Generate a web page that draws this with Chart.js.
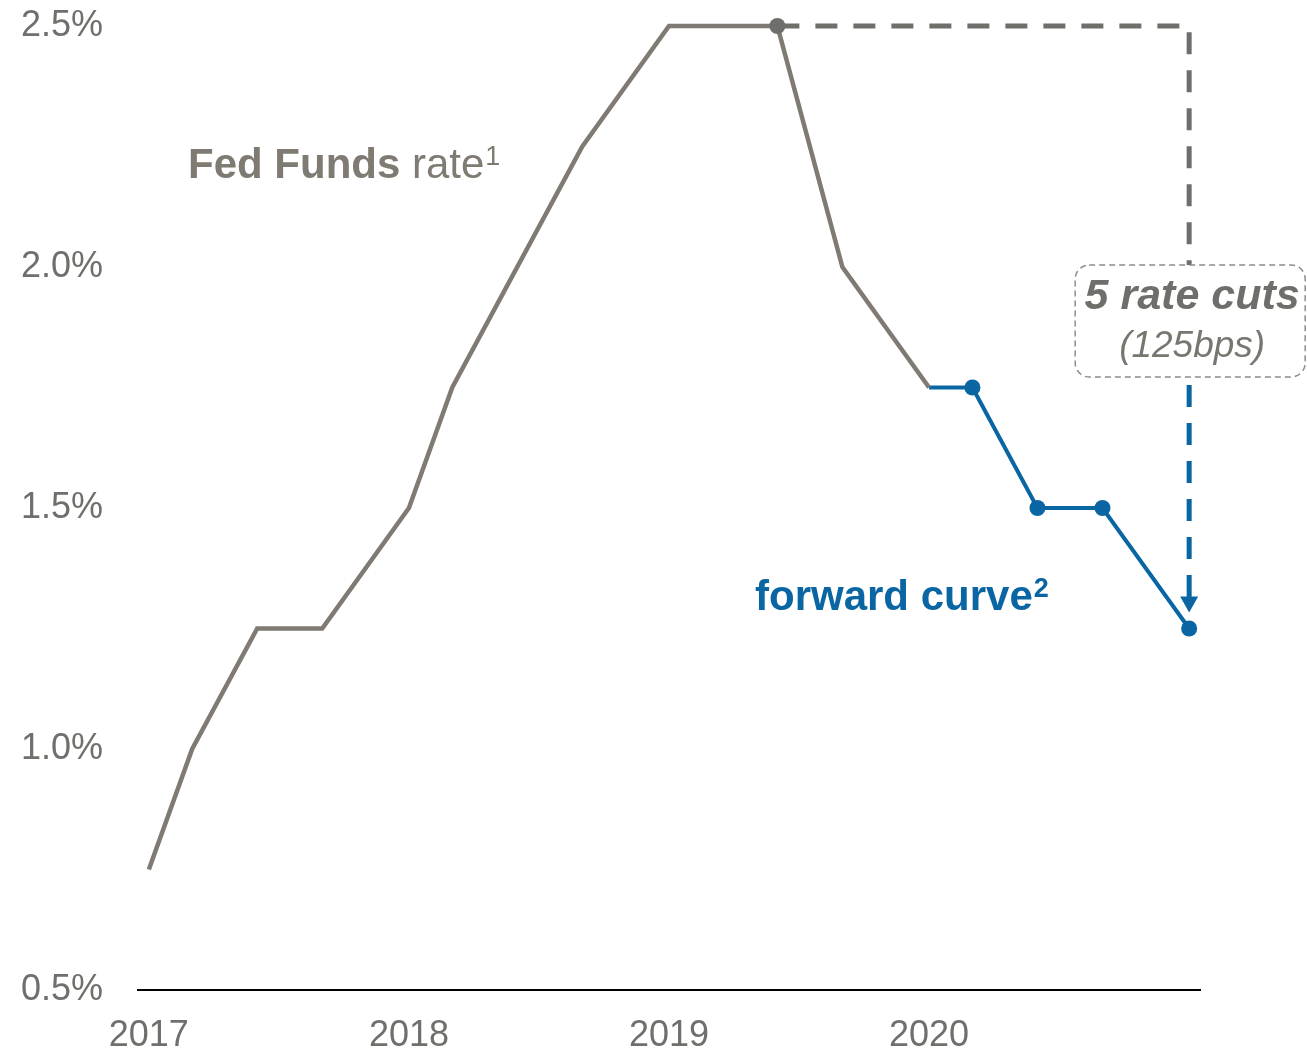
<!DOCTYPE html>
<html>
<head>
<meta charset="utf-8">
<script src="https://cdn.jsdelivr.net/npm/chart.js@4"></script>
<style>
  html, body { margin: 0; padding: 0; background: #fff; }
  #wrap { width: 1307px; height: 1055px; position: relative; }
</style>
</head>
<body>
<div id="wrap"><canvas id="rateChart"></canvas></div>
<script>
// months counted from January 2017
var fedMonths = [0, 2, 5, 8, 12, 14, 20, 24, 29, 32, 36];
var fedRates = [0.75, 1.0, 1.25, 1.25, 1.5, 1.75, 2.25, 2.5, 2.5, 2.0, 1.75];
var fwdMonths = [36, 38, 41, 44, 48];
var fwdRates = [1.75, 1.75, 1.5, 1.5, 1.25];
var yearLabels = ["2017", "2018", "2019", "2020"];
var yearMonths = [0, 12, 24, 36];
var rateTicks = [0.5, 1.0, 1.5, 2.0, 2.5];

var FONT = "'Liberation Sans', Arial, sans-serif";
var GREY = "#7f7a72";
var DARK = "#6e6e6a";
var BLUE = "#0a66a3";
var peakIdx = 8;

function toPoints(xs, ys) {
  return xs.map(function (m, i) { return { x: m, y: ys[i] }; });
}

// dashed lines, arrow, box and text labels
var annotations = {
  id: "annotations",
  beforeDatasetsDraw: function (chart) {
    var ctx = chart.ctx;
    var xs = chart.scales.x, ys = chart.scales.y;
    var peakX = xs.getPixelForValue(fedMonths[peakIdx]);
    var peakY = ys.getPixelForValue(fedRates[peakIdx]);
    var endX = xs.getPixelForValue(fwdMonths[fwdMonths.length - 1]);
    var endY = ys.getPixelForValue(fwdRates[fwdRates.length - 1]);
    var boxTop = ys.getPixelForValue(2.0) - 2;
    var boxBottom = boxTop + 112;

    ctx.save();
    ctx.lineWidth = 5;
    ctx.setLineDash([22, 16]);
    ctx.strokeStyle = DARK;
    ctx.beginPath();
    ctx.moveTo(peakX, peakY);
    ctx.lineTo(endX, peakY);
    ctx.lineTo(endX, boxTop);
    ctx.stroke();

    // blue arrow down to the last forward point
    var tipY = endY - 16;
    ctx.strokeStyle = BLUE;
    ctx.beginPath();
    ctx.moveTo(endX, boxBottom + 8);
    ctx.lineTo(endX, tipY - 14);
    ctx.stroke();
    ctx.setLineDash([]);
    ctx.fillStyle = BLUE;
    ctx.beginPath();
    ctx.moveTo(endX - 9, tipY - 16);
    ctx.lineTo(endX + 9, tipY - 16);
    ctx.lineTo(endX, tipY);
    ctx.closePath();
    ctx.fill();

    // box
    ctx.fillStyle = "#fff";
    ctx.strokeStyle = "#8c8c8a";
    ctx.lineWidth = 1.5;
    ctx.setLineDash([6, 4]);
    ctx.beginPath();
    ctx.roundRect(endX - 114, boxTop, 230, boxBottom - boxTop, 14);
    ctx.fill();
    ctx.stroke();
    ctx.setLineDash([]);

    ctx.textBaseline = "middle";
    ctx.textAlign = "center";
    ctx.fillStyle = DARK;
    ctx.font = "italic bold 43px " + FONT;
    ctx.fillText("5 rate cuts", endX + 3, boxTop + 32);
    ctx.fillStyle = "#77776f";
    ctx.font = "italic 37px " + FONT;
    ctx.fillText("(125bps)", endX + 3, boxTop + 82);

    // series labels
    ctx.textAlign = "left";
    var x = 188;
    ctx.fillStyle = GREY;
    ctx.font = "bold 42px " + FONT;
    ctx.fillText("Fed Funds", x, 166);
    x += ctx.measureText("Fed Funds ").width;
    ctx.font = "42px " + FONT;
    ctx.fillText("rate", x, 166);
    x += ctx.measureText("rate").width + 1;
    ctx.font = "27px " + FONT;
    ctx.fillText("1", x, 158);

    x = 755;
    ctx.fillStyle = BLUE;
    ctx.font = "bold 42px " + FONT;
    ctx.fillText("forward curve", x, 598);
    x += ctx.measureText("forward curve").width + 1;
    ctx.font = "bold 27px " + FONT;
    ctx.fillText("2", x, 590);
    ctx.restore();
  }
};

var ctx = document.getElementById("rateChart").getContext("2d");
var rateChart = new Chart(ctx, {
  type: "line",
  data: {
    datasets: [
      {
        label: "Fed Funds rate",
        data: toPoints(fedMonths, fedRates),
        borderColor: GREY,
        borderWidth: 4.5,
        pointRadius: fedMonths.map(function (m, i) { return i === peakIdx ? 8 : 0; }),
        pointBackgroundColor: DARK,
        pointBorderWidth: 0,
        tension: 0,
        clip: false,
      },
      {
        label: "forward curve",
        data: toPoints(fwdMonths, fwdRates),
        borderColor: BLUE,
        borderWidth: 4,
        pointRadius: fwdMonths.map(function (m, i) { return i === 0 ? 0 : 8; }),
        pointBackgroundColor: BLUE,
        pointBorderWidth: 0,
        tension: 0,
        clip: false,
      },
    ],
  },
  options: {
    responsive: true,
    maintainAspectRatio: false,
    animation: false,
    events: [],
    layout: { padding: { top: 26, right: 107, bottom: 0, left: 0 } },
    plugins: { legend: { display: false }, tooltip: { enabled: false } },
    scales: {
      x: {
        type: "linear",
        min: -0.5,
        max: 48.5,
        afterBuildTicks: function (scale) {
          scale.ticks = yearMonths.map(function (m) { return { value: m }; });
        },
        afterFit: function (scale) {
          scale.height = 65;
          scale.paddingLeft = 0;
          scale.paddingRight = 0;
        },
        grid: { display: false, drawTicks: false },
        border: { display: true, color: "#000", width: 2 },
        ticks: {
          autoSkip: false,
          maxRotation: 0,
          padding: 24,
          color: "#6f6f6b",
          font: { family: FONT, size: 36 },
          callback: function (v) { return yearLabels[yearMonths.indexOf(v)]; },
        },
      },
      y: {
        min: 0.5,
        max: 2.5,
        afterBuildTicks: function (scale) {
          scale.ticks = rateTicks.map(function (r) { return { value: r }; });
        },
        afterFit: function (scale) {
          scale.width = 138;
          scale.paddingTop = 0;
          scale.paddingBottom = 0;
        },
        grid: { display: false, drawTicks: false },
        border: { display: false },
        ticks: {
          padding: 35,
          color: "#6f6f6b",
          font: { family: FONT, size: 36 },
          callback: function (v) { return v.toFixed(1) + "%"; },
        },
      },
    },
  },
  plugins: [annotations],
});
</script>
</body>
</html>
